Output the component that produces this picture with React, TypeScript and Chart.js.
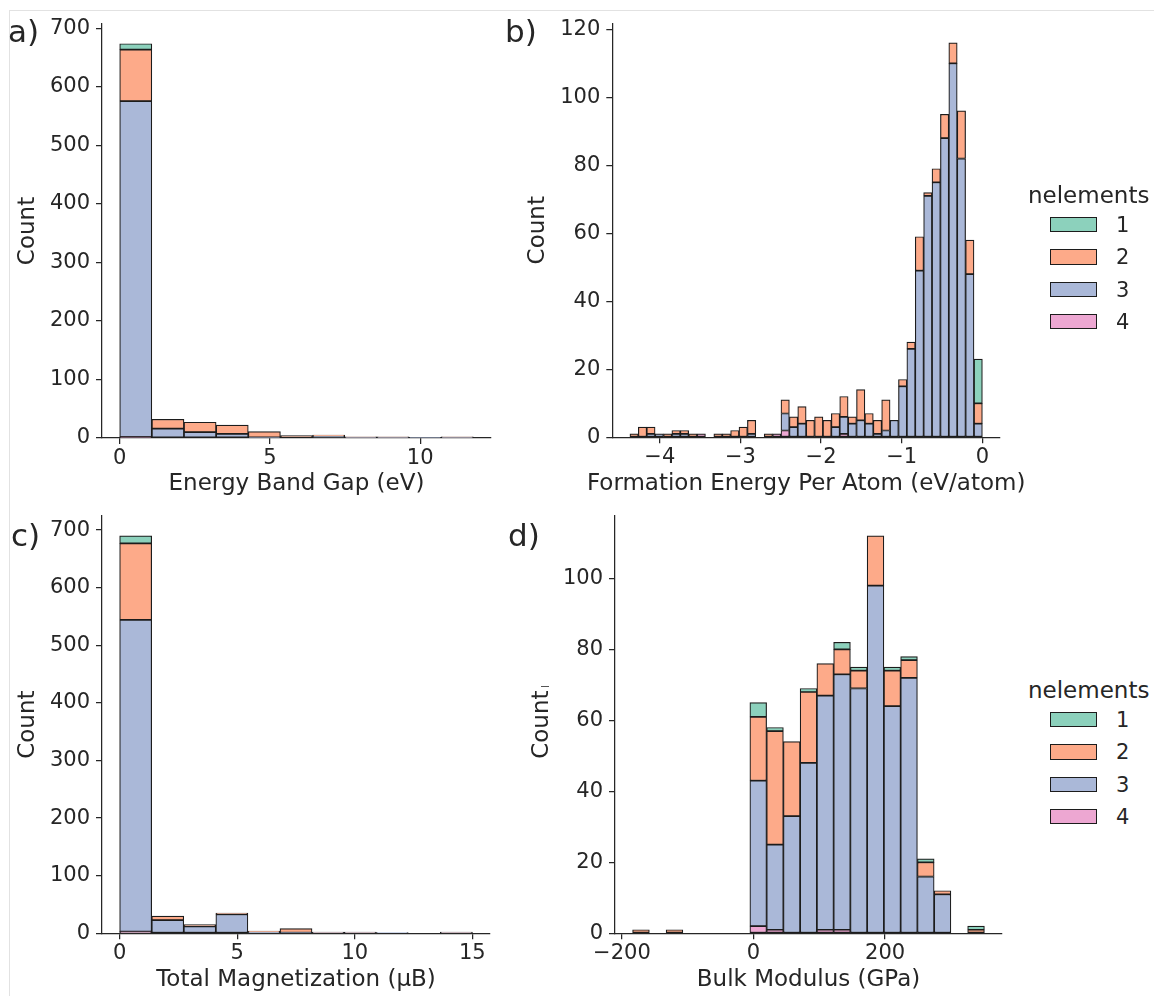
import React, { useEffect, useRef } from 'react';
import { Chart, registerables } from 'chart.js';

Chart.register(...registerables);

const FONT_FAMILY = "'DejaVu Sans', 'Liberation Sans', sans-serif";
const TEXT_COLOR = '#262626';
const EDGE_COLOR = '#1c1c1c';

// hue (nelements) — listed in legend order
const hueLabels = ['1', '2', '3', '4'];
const hueColors = ['#8cd1bc', '#fdaa89', '#aab8d8', '#eda7d2'];
const legendTitle = 'nelements';

// ---------- a) Energy Band Gap ----------
const gapBinStart = 0;
const gapBinWidth = 1.07;
const gapN1 = [10, 0, 0, 0, 0, 0, 0, 0, 0, 0, 0];
const gapN2 = [88, 16, 17, 15, 10, 4, 2, 1, 1, 0, 1];
const gapN3 = [574, 16, 10, 7, 1, 0, 3, 1, 1, 1, 1];
const gapN4 = [2, 0, 0, 0, 0, 0, 0, 0, 0, 0, 0];
const gapXTicks = [0, 5, 10];
const gapYTicks = [0, 100, 200, 300, 400, 500, 600, 700];

// ---------- b) Formation Energy Per Atom ----------
const formBinStart = -4.37;
const formBinWidth = 0.10405;
const formN1 = [0, 0, 0, 0, 0, 0, 0, 0, 0, 0, 0, 0, 0, 0, 0, 0, 0, 0, 0, 0, 0, 0, 0, 0, 0, 0, 0, 0, 0, 0, 0, 0, 0, 0, 0, 0, 0, 0, 0, 0, 0, 13];
const formN2 = [1, 3, 2, 0, 1, 1, 1, 1, 0, 0, 1, 1, 2, 3, 4, 0, 1, 0, 4, 3, 5, 5, 6, 5, 4, 6, 2, 9, 3, 4, 9, 0, 2, 2, 10, 1, 4, 7, 6, 14, 10, 6];
const formN3 = [0, 0, 1, 1, 0, 1, 1, 0, 0, 0, 0, 0, 0, 0, 1, 0, 0, 0, 5, 3, 4, 0, 0, 0, 3, 5, 4, 5, 4, 1, 2, 5, 15, 26, 49, 71, 75, 88, 110, 82, 48, 4];
const formN4 = [0, 0, 0, 0, 0, 0, 0, 0, 1, 0, 0, 0, 0, 0, 0, 0, 0, 1, 2, 0, 0, 0, 0, 0, 0, 1, 0, 0, 0, 0, 0, 0, 0, 0, 0, 0, 0, 0, 0, 0, 0, 0];
const formXTicks = [-4, -3, -2, -1, 0];
const formYTicks = [0, 20, 40, 60, 80, 100, 120];

// ---------- c) Total Magnetization ----------
const magBinStart = 0;
const magBinWidth = 1.3636;
const magN1 = [13, 0, 0, 0, 0, 0, 0, 0, 0, 0, 0];
const magN2 = [133, 7, 3, 2, 2, 7, 1, 1, 0, 0, 1];
const magN3 = [541, 23, 12, 33, 2, 1, 1, 1, 1, 0, 1];
const magN4 = [3, 0, 0, 0, 0, 0, 0, 0, 0, 0, 0];
const magXTicks = [0, 5, 10, 15];
const magYTicks = [0, 100, 200, 300, 400, 500, 600, 700];

// ---------- d) Bulk Modulus ----------
const bulkBinStart = -183.8;
const bulkBinWidth = 25.462;
const bulkN1 = [0, 0, 0, 0, 0, 0, 0, 4, 1, 0, 1, 0, 2, 1, 0, 1, 1, 1, 0, 0, 1];
const bulkN2 = [1, 0, 1, 0, 0, 0, 0, 18, 32, 21, 20, 9, 7, 5, 14, 10, 5, 4, 1, 0, 1];
const bulkN3 = [0, 0, 0, 0, 0, 0, 0, 41, 24, 33, 48, 66, 72, 69, 98, 64, 72, 16, 11, 0, 0];
const bulkN4 = [0, 0, 0, 0, 0, 0, 0, 2, 1, 0, 0, 1, 1, 0, 0, 0, 0, 0, 0, 0, 0];
const bulkXTicks = [-200, 0, 200];
const bulkYTicks = [0, 20, 40, 60, 80, 100];

type Box = { left: number; top: number; width: number; height: number };
type Plot = { left: number; top: number; right: number; bottom: number };

type PanelSpec = {
  binStart: number;
  binWidth: number;
  series: number[][];
  xTicks: number[];
  yTicks: number[];
  xTitle: string;
  yTitle: string;
  box: Box;
  plot: Plot;
  yTitlePad: number;
};

const fmtTick = (v: number) => (v < 0 ? '\u2212' + Math.abs(v) : String(v));

// draws the x-axis title without Chart.js's max-width squeezing
const freeXTitle = {
  id: 'freeXTitle',
  afterDraw(chart: any, _args: any, opts: any) {
    if (!opts || !opts.text) return;
    const { ctx, chartArea } = chart;
    ctx.save();
    ctx.font = `${opts.size}px ${FONT_FAMILY}`;
    ctx.fillStyle = TEXT_COLOR;
    ctx.textAlign = 'center';
    ctx.textBaseline = 'middle';
    ctx.fillText(opts.text, (chartArea.left + chartArea.right) / 2, chartArea.bottom + opts.offset);
    ctx.restore();
  },
};

function HistPanel({ spec }: { spec: PanelSpec }) {
  const ref = useRef<HTMLCanvasElement | null>(null);
  useEffect(() => {
    if (!ref.current) return;
    const { binStart, binWidth, series, box, plot } = spec;
    const n = series[0].length;
    const centers = Array.from({ length: n }, (_, i) => binStart + (i + 0.5) * binWidth);
    const totals = centers.map((_, i) => series.reduce((s, arr) => s + arr[i], 0));
    const edgeMin = binStart;
    const edgeMax = binStart + n * binWidth;
    const span = edgeMax - edgeMin;
    const xMin = edgeMin - 0.05 * span;
    const xMax = edgeMax + 0.05 * span;
    const yMax = Math.max(...totals) * 1.05;
    const stackOrder = [3, 2, 1, 0]; // bottom -> top : 4,3,2,1
    const datasets = stackOrder.map((k) => ({
      label: hueLabels[k],
      data: centers.map((x, i) => ({ x, y: series[k][i] })),
      backgroundColor: hueColors[k],
      borderColor: EDGE_COLOR,
      borderWidth: 1.2,
      borderSkipped: false as const,
      barPercentage: 1,
      categoryPercentage: 1,
    }));
    const tickFont = { family: FONT_FAMILY, size: 21 };
    const titleFont = { family: FONT_FAMILY, size: 23 };
    const chart = new Chart(ref.current, {
      type: 'bar',
      data: { datasets: datasets as any },
      plugins: [freeXTitle as any],
      options: {
        responsive: false,
        animation: false,
        events: [],
        layout: {
          padding: {
            left: 0,
            top: plot.top - box.top,
            right: box.left + box.width - plot.right,
            bottom: 0,
          },
        },
        plugins: {
          legend: { display: false },
          tooltip: { enabled: false },
          title: { display: false },
          freeXTitle: { text: spec.xTitle, size: 23, offset: 46.3 },
        } as any,
        scales: {
          x: {
            type: 'linear',
            stacked: true,
            min: xMin,
            max: xMax,
            offset: false,
            grid: {
              display: true,
              offset: false,
              drawOnChartArea: false,
              drawTicks: true,
              tickLength: 6,
              color: TEXT_COLOR,
              lineWidth: 1.25,
            },
            border: { display: true, color: TEXT_COLOR, width: 1.25 },
            ticks: {
              font: tickFont,
              color: TEXT_COLOR,
              padding: 2,
              autoSkip: false,
              maxRotation: 0,
              minRotation: 0,
              callback: (v: any) => fmtTick(Number(v)),
            },
            title: { display: false },
            afterBuildTicks: (s: any) => {
              s.ticks = spec.xTicks.map((v) => ({ value: v }));
            },
            afterFit: (s: any) => {
              s.height = box.top + box.height - plot.bottom;
              s.paddingLeft = 0;
              s.paddingRight = 0;
              s.paddingTop = 0;
              s.paddingBottom = 0;
            },
          } as any,
          y: {
            type: 'linear',
            stacked: true,
            min: 0,
            max: yMax,
            grid: {
              display: true,
              drawOnChartArea: false,
              drawTicks: true,
              tickLength: 6,
              color: TEXT_COLOR,
              lineWidth: 1.25,
            },
            border: { display: true, color: TEXT_COLOR, width: 1.25 },
            ticks: {
              font: tickFont,
              color: TEXT_COLOR,
              padding: 6,
              autoSkip: false,
              callback: (v: any) => fmtTick(Number(v)),
            },
            title: {
              display: true,
              text: spec.yTitle,
              font: titleFont,
              color: TEXT_COLOR,
              padding: { top: spec.yTitlePad, bottom: 0 },
            },
            afterBuildTicks: (s: any) => {
              s.ticks = spec.yTicks.map((v) => ({ value: v }));
            },
            afterFit: (s: any) => {
              s.width = plot.left - box.left;
              s.paddingLeft = 0;
              s.paddingRight = 0;
              s.paddingTop = 0;
              s.paddingBottom = 0;
            },
          } as any,
        },
      },
    });
    return () => chart.destroy();
  }, [spec]);

  return (
    <canvas
      ref={ref}
      width={spec.box.width}
      height={spec.box.height}
      style={{
        position: 'absolute',
        left: spec.box.left,
        top: spec.box.top,
        width: spec.box.width,
        height: spec.box.height,
      }}
    />
  );
}

const panels: PanelSpec[] = [
  {
    binStart: gapBinStart,
    binWidth: gapBinWidth,
    series: [gapN1, gapN2, gapN3, gapN4],
    xTicks: gapXTicks,
    yTicks: gapYTicks,
    xTitle: 'Energy Band Gap (eV)',
    yTitle: 'Count',
    box: { left: 0, top: 0, width: 505, height: 498 },
    plot: { left: 102, top: 24, right: 491, bottom: 438 },
    yTitlePad: 14.5,
  },
  {
    binStart: formBinStart,
    binWidth: formBinWidth,
    series: [formN1, formN2, formN3, formN4],
    xTicks: formXTicks,
    yTicks: formYTicks,
    xTitle: 'Formation Energy Per Atom (eV/atom)',
    yTitle: 'Count',
    box: { left: 524, top: 0, width: 520, height: 498 },
    plot: { left: 612.3, top: 23.2, right: 1000, bottom: 437.3 },
    yTitlePad: 0,
  },
  {
    binStart: magBinStart,
    binWidth: magBinWidth,
    series: [magN1, magN2, magN3, magN4],
    xTicks: magXTicks,
    yTicks: magYTicks,
    xTitle: 'Total Magnetization (\u03bcB)',
    yTitle: 'Count',
    box: { left: 0, top: 500, width: 505, height: 494 },
    plot: { left: 102, top: 516, right: 490, bottom: 933.3 },
    yTitlePad: 14.5,
  },
  {
    binStart: bulkBinStart,
    binWidth: bulkBinWidth,
    series: [bulkN1, bulkN2, bulkN3, bulkN4],
    xTicks: bulkXTicks,
    yTicks: bulkYTicks,
    xTitle: 'Bulk Modulus (GPa)',
    yTitle: 'Count',
    box: { left: 528, top: 500, width: 484, height: 494 },
    plot: { left: 615, top: 516, right: 1002, bottom: 933.3 },
    yTitlePad: 0,
  },
];

const panelLabels = [
  { text: 'a)', left: 8, top: 15.5 },
  { text: 'b)', left: 505, top: 15.5 },
  { text: 'c)', left: 11, top: 519.8 },
  { text: 'd)', left: 508, top: 519.8 },
];

const legendOffsets = [0, 495];

function Legend({ dy }: { dy: number }) {
  return (
    <>
      <div
        style={{
          position: 'absolute',
          left: 1028,
          top: 183.5 + dy,
          fontSize: 23,
          lineHeight: 1,
          color: TEXT_COLOR,
          whiteSpace: 'nowrap',
        }}
      >
        {legendTitle}
      </div>
      {hueLabels.map((lab, i) => (
        <React.Fragment key={lab}>
          <div
            style={{
              position: 'absolute',
              left: 1050,
              top: 216.7 + 32.4 * i + dy,
              width: 47,
              height: 15.5,
              boxSizing: 'border-box',
              border: `1.2px solid ${EDGE_COLOR}`,
              background: hueColors[i],
            }}
          />
          <div
            style={{
              position: 'absolute',
              left: 1116,
              top: 233 + 32.2 * i - 17.8 + dy,
              fontSize: 21,
              lineHeight: 1,
              color: TEXT_COLOR,
            }}
          >
            {lab}
          </div>
        </React.Fragment>
      ))}
    </>
  );
}

export default function App() {
  return (
    <div
      style={{
        position: 'absolute',
        left: 0,
        top: 0,
        width: 1154,
        height: 996,
        background: '#ffffff',
        fontFamily: FONT_FAMILY,
        overflow: 'hidden',
      }}
    >
      <div
        style={{
          position: 'absolute',
          left: 9,
          top: 10,
          width: 1145,
          height: 990,
          borderTop: '1px solid #e2e2e2',
          borderLeft: '1px solid #e2e2e2',
        }}
      />
      {panels.map((p, i) => (
        <HistPanel key={i} spec={p} />
      ))}
      {panelLabels.map((l) => (
        <div
          key={l.text}
          style={{
            position: 'absolute',
            left: l.left,
            top: l.top,
            fontSize: 31,
            lineHeight: 1,
            color: TEXT_COLOR,
          }}
        >
          {l.text}
        </div>
      ))}
      {legendOffsets.map((dy) => (
        <Legend key={dy} dy={dy} />
      ))}
      <div
        style={{
          position: 'absolute',
          left: 541,
          top: 686,
          width: 8,
          height: 1,
          background: '#555555',
        }}
      />
    </div>
  );
}
